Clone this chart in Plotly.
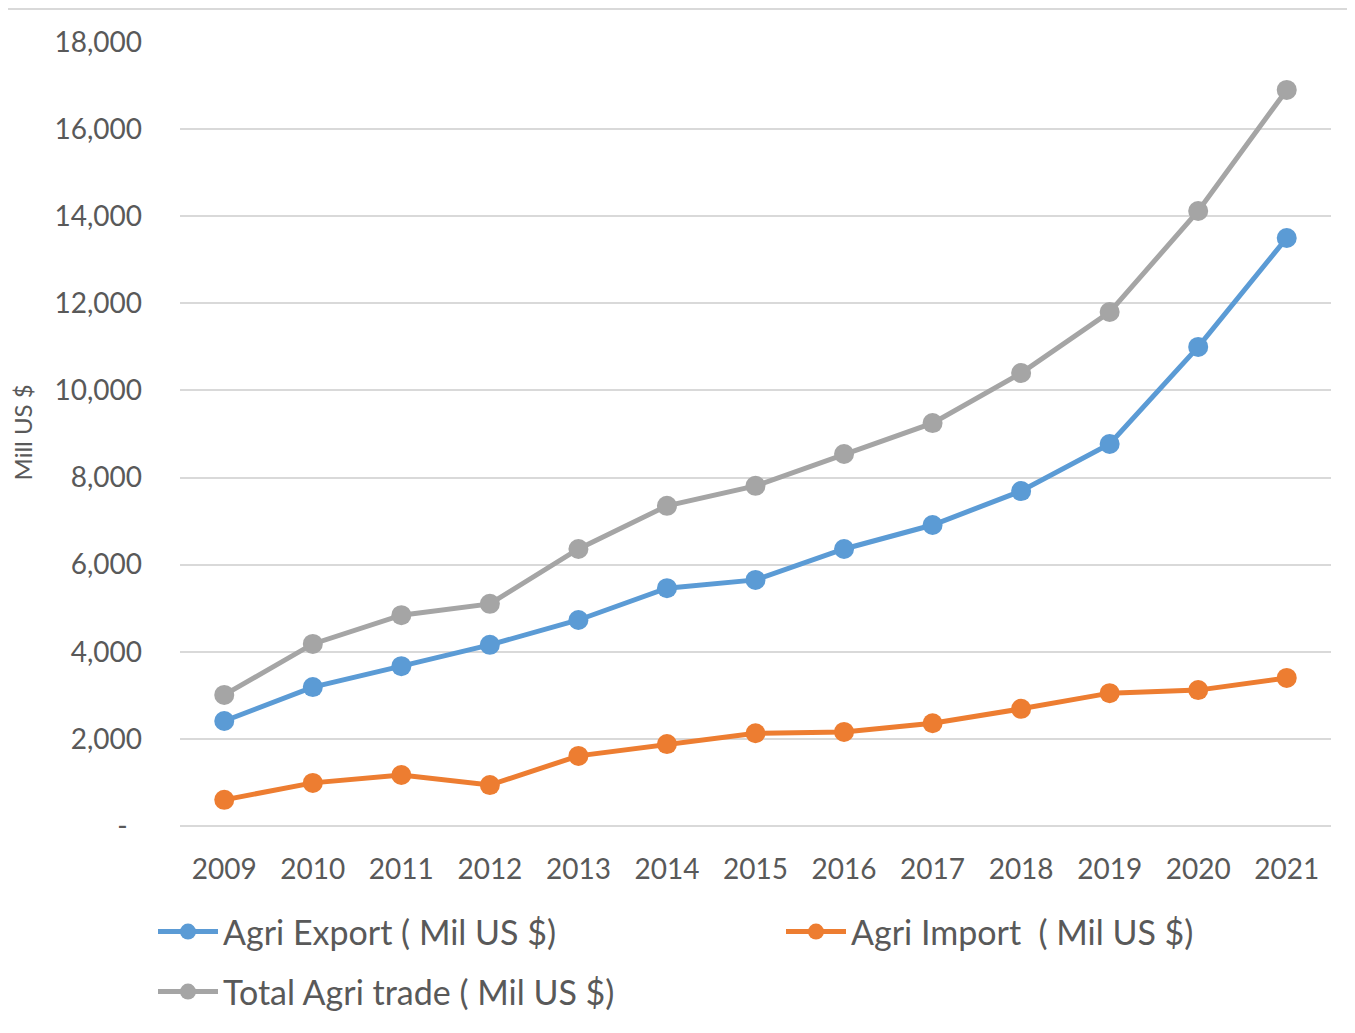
import plotly.graph_objects as go

years = ["2009", "2010", "2011", "2012", "2013", "2014", "2015", "2016", "2017", "2018", "2019", "2020", "2021"]
agri_export = [2410, 3190, 3670, 4160, 4730, 5460, 5650, 6360, 6910, 7690, 8770, 11000, 13500]
agri_import = [600, 990, 1170, 940, 1610, 1880, 2130, 2160, 2360, 2690, 3050, 3120, 3400]
total_trade = [3010, 4180, 4840, 5100, 6360, 7350, 7810, 8540, 9250, 10400, 11800, 14120, 16900]

y_tickvals = [0, 2000, 4000, 6000, 8000, 10000, 12000, 14000, 16000, 18000]
y_ticktext = ["-\u00a0\u00a0", "2,000", "4,000", "6,000", "8,000", "10,000", "12,000", "14,000", "16,000", "18,000"]

series = [
    ("Agri Export ( Mil US $)", agri_export, "#5B9BD5", "legend"),
    ("Agri Import  ( Mil US $)", agri_import, "#ED7D31", "legend2"),
    ("Total Agri trade ( Mil US $)", total_trade, "#A5A5A5", "legend3"),
]

FONT = "Lato, Carlito, Calibri, sans-serif"
TXT = "#595959"

# figure sits inside the page body's 8px margin
W, H = 1339, 1017
PW = 1151
PH = 784

fig = go.Figure()
for name, vals, col, lg in series:
    fig.add_trace(go.Scatter(
        x=years, y=vals, name=name, mode="lines+markers",
        line=dict(color=col, width=5),
        marker=dict(color=col, size=20),
        legend=lg,
    ))

legend_common = dict(
    orientation="h", xanchor="left", yanchor="middle",
    xref="container", yref="container",
    font=dict(size=34, color=TXT, family=FONT),
    itemwidth=60, bgcolor="rgba(0,0,0,0)",
)

fig.update_layout(
    width=W, height=H,
    margin=dict(l=172, r=16, t=34, b=199),
    paper_bgcolor="white", plot_bgcolor="white",
    font=dict(family=FONT, color=TXT, size=28),
    showlegend=True,
    legend=dict(x=145 / W, y=1 - 924 / H, **legend_common),
    legend2=dict(x=773 / W, y=1 - 924 / H, **legend_common),
    legend3=dict(x=145 / W, y=1 - 984 / H, **legend_common),
    xaxis=dict(
        type="category", range=[-0.5, 12.5],
        showgrid=False, showline=False, zeroline=False,
        ticks="", tickfont=dict(size=28, color=TXT),
        ticklabelstandoff=24,
    ),
    yaxis=dict(
        range=[0, 18000], tickvals=y_tickvals, ticktext=y_ticktext,
        showgrid=True, gridcolor="#D9D9D9", gridwidth=1.5,
        zeroline=True, zerolinecolor="#D9D9D9", zerolinewidth=1.5,
        showline=False, ticks="", tickfont=dict(size=28, color=TXT),
        ticklabelstandoff=37,
    ),
    annotations=[dict(
        text="Mill US $", xref="paper", yref="paper",
        x=-158 / PW, y=0.502, textangle=-90, showarrow=False,
        font=dict(size=24, color=TXT, family=FONT),
        xanchor="center", yanchor="middle",
    )],
    shapes=[dict(
        type="line", xref="paper", yref="paper",
        x0=-180 / PW, x1=1175 / PW, y0=1 + 33 / PH, y1=1 + 33 / PH,
        line=dict(color="#D9D9D9", width=2),
    )],
)

fig.write_html("out.html")
